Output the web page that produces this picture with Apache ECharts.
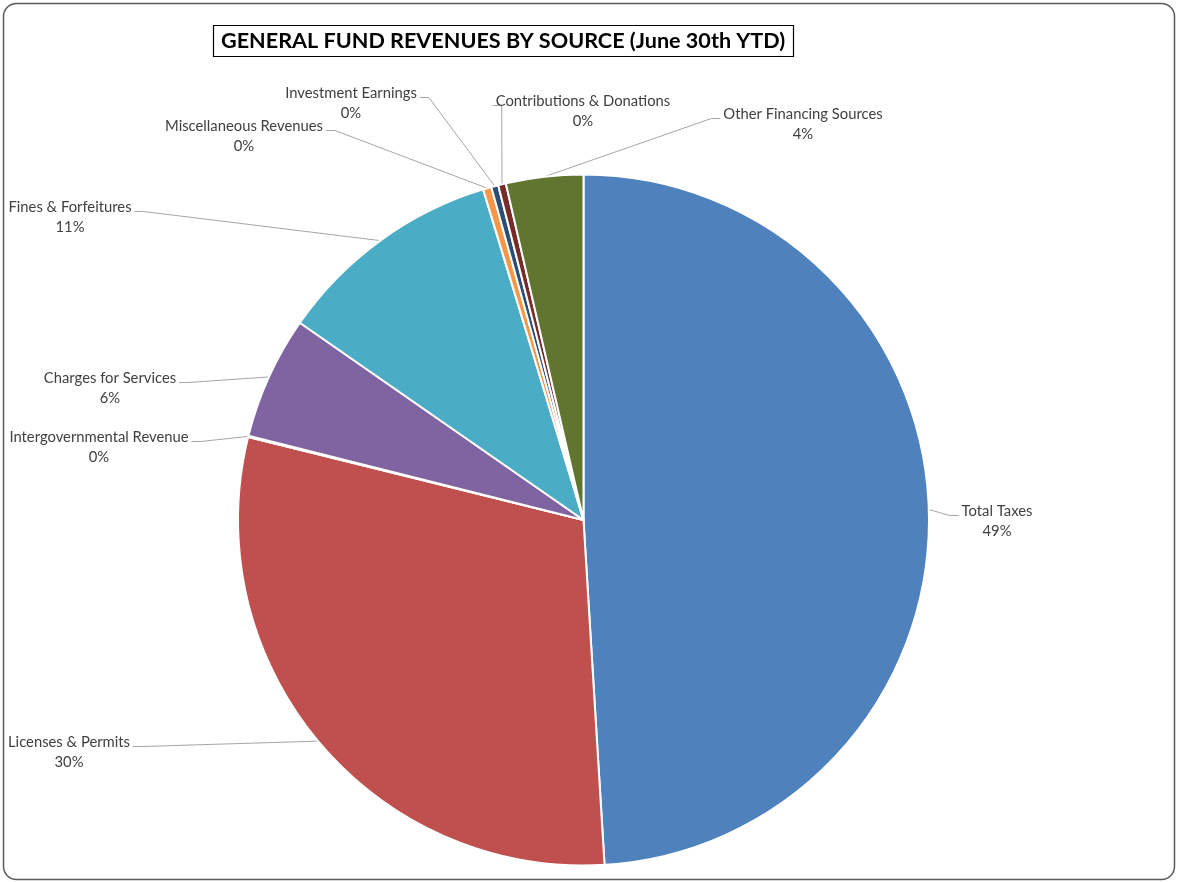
<!DOCTYPE html>
<html>
<head>
<meta charset="utf-8">
<script src="https://cdn.jsdelivr.net/npm/echarts@6/dist/echarts.min.js"></script>
<style>
html,body{margin:0;padding:0;background:#fff;}
#chart{width:1178px;height:882px;}
</style>
</head>
<body>
<div id="chart"></div>
<script>
// ---- data ----
var categories = ['Total Taxes','Licenses & Permits','Intergovernmental Revenue','Charges for Services','Fines & Forfeitures','Miscellaneous Revenues','Investment Earnings','Contributions & Donations','Other Financing Sources'];
var revenueShare = [49.03, 29.83, 0.06, 5.75, 10.64, 0.39, 0.33, 0.36, 3.61];
var sliceColors = ['#4F81BD','#C0504D','#9BBB59','#8064A2','#4BACC6','#F79646','#2C4D75','#772C2A','#5F7530'];
var titleText = 'GENERAL FUND REVENUES BY SOURCE (June 30th YTD)';

// ---- label placement (text centre x, first-line centre y) ----
var labelPlaces = [[997,511],[69,742],[99,437],[110,378],[70,207],[244,126],[351,93],[583,101],[803,114]];

var CX = 583.5, CY = 520, R = 345.5;
var total = revenueShare.reduce(function(a,b){return a+b;},0);
var cum = [];
(function(){var s=0;for(var i=0;i<revenueShare.length;i++){cum.push(s);s+=revenueShare[i];}})();

function anchor(i){
  var a = (cum[i] + revenueShare[i]/2)/total*2*Math.PI; // clockwise from top
  return [CX + R*Math.sin(a), CY - R*Math.cos(a)];
}

var FONT = 'Lato';
var chart = echarts.init(document.getElementById('chart'), null, {renderer:'canvas'});
chart.setOption({
  animation:false,
  backgroundColor:'#fff',
  title:{
    text:titleText,
    left:213, top:25,
    padding:[5,8,5,8],
    borderColor:'#000', borderWidth:1.2,
    textStyle:{fontFamily:FONT, fontWeight:'bold', fontSize:21.6, color:'#000', lineHeight:22}
  },
  graphic:[{
    type:'rect', silent:true, z:-1,
    shape:{x:3.5,y:3.5,width:1171,height:876,r:13},
    style:{fill:'none', stroke:'#5a5a5a', lineWidth:1.5}
  }],
  series:[{
    type:'pie',
    center:[CX,CY],
    radius:[0,R],
    startAngle:90,
    clockwise:true,
    avoidLabelOverlap:false,
    percentPrecision:0,
    itemStyle:{borderColor:'#fff', borderWidth:2},
    label:{
      show:true,
      position:'outside',
      formatter:'{b}\n{d}%',
      fontFamily:FONT, fontSize:14.8, lineHeight:20, color:'#404040', align:'center'
    },
    labelLine:{show:true, length:10, length2:10, lineStyle:{color:'#a6a6a6', width:1}},
    emphasis:{disabled:true},
    labelLayout:function(p){
      var i = p.dataIndex;
      var pl = labelPlaces[i];
      var w = p.labelRect.width;
      var a = anchor(i);
      var ly = pl[1] + 4.5;
      var ex, tail;
      if (pl[0] < a[0]) { ex = pl[0] + w/2 + 3; } else { ex = pl[0] - w/2 - 3; }
      var d = a[0] - ex;
      tail = Math.sign(d) * Math.min(9, Math.abs(d));
      return {
        x: pl[0], y: pl[1] - 10,
        align:'center', verticalAlign:'top',
        labelLinePoints:[[a[0],a[1]],[ex+tail,ly],[ex,ly]]
      };
    },
    data: categories.map(function(n,i){
      return {name:n, value:revenueShare[i], itemStyle:{color:sliceColors[i]}};
    })
  }]
});
</script>
</body>
</html>
